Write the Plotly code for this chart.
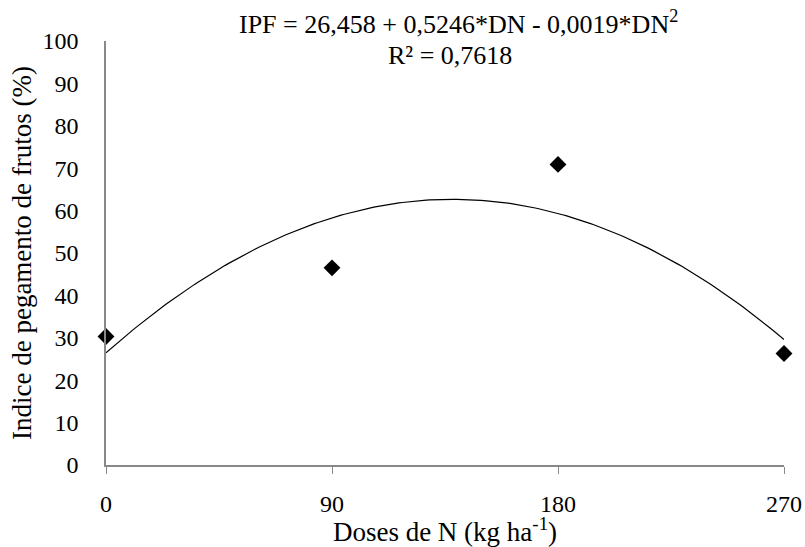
import numpy as np
import plotly.graph_objects as go

# Observed data: nitrogen doses and fruit set index
doses = [0, 90, 180, 270]
ipf = [30.3, 46.5, 70.9, 26.3]

# Quadratic fit coefficients (IPF = b0 + b1*DN + b2*DN^2)
b0, b1, b2 = 26.458, 0.5246, -0.0019
x_fit = np.linspace(0, 270, 200)
y_fit = b0 + b1 * x_fit + b2 * x_fit ** 2

x_ticks = [0, 90, 180, 270]
y_ticks = list(range(0, 101, 10))

font_family = "Liberation Serif"
tick_fs = 24
title_fs = 27
note_fs = 26

fig = go.Figure()
fig.add_trace(go.Scatter(
    x=x_fit, y=y_fit, mode="lines",
    line=dict(color="black", width=1.2),
    showlegend=False, hoverinfo="skip",
))
fig.add_trace(go.Scatter(
    x=doses, y=ipf, mode="markers",
    marker=dict(symbol="diamond", size=13, color="black"),
    showlegend=False, cliponaxis=False,
))

fig.update_layout(
    width=805, height=547,
    margin=dict(l=106, r=21, t=41, b=82, autoexpand=False),
    paper_bgcolor="white", plot_bgcolor="white",
    font=dict(family=font_family, size=tick_fs, color="black"),
    xaxis=dict(
        range=[0, 270], tickvals=x_ticks, ticks="outside", ticklen=7,
        tickcolor="#888888", showline=True, linecolor="#888888", linewidth=1.5,
        showgrid=False, zeroline=False, ticklabelstandoff=9, automargin=False,
        title=dict(text="Doses de N (kg ha<sup>-1</sup>)", standoff=4,
                   font=dict(family=font_family, size=title_fs)),
        tickfont=dict(family=font_family, size=tick_fs),
    ),
    yaxis=dict(
        range=[0, 100], tickvals=y_ticks, ticks="", showline=True,
        linecolor="#888888", linewidth=1.5, showgrid=False, zeroline=False,
        ticklabelstandoff=21, automargin=False,
        title=dict(text="Indice de pegamento de frutos (%)", standoff=3,
                   font=dict(family=font_family, size=title_fs)),
        tickfont=dict(family=font_family, size=tick_fs),
    ),
)

# Regression equation and coefficient of determination above the plot
fig.add_annotation(
    text="IPF = 26,458 + 0,5246*DN - 0,0019*DN<sup>2</sup>",
    xref="paper", yref="paper", x=0.5206, y=1.0 + 19 / 424,
    xanchor="center", yanchor="middle", showarrow=False,
    font=dict(family=font_family, size=note_fs),
)
fig.add_annotation(
    text="R² = 0,7618",
    xref="paper", yref="paper", x=0.507, y=1.0 - 14 / 424,
    xanchor="center", yanchor="middle", showarrow=False,
    font=dict(family=font_family, size=note_fs),
)

fig.write_html("out.html")
